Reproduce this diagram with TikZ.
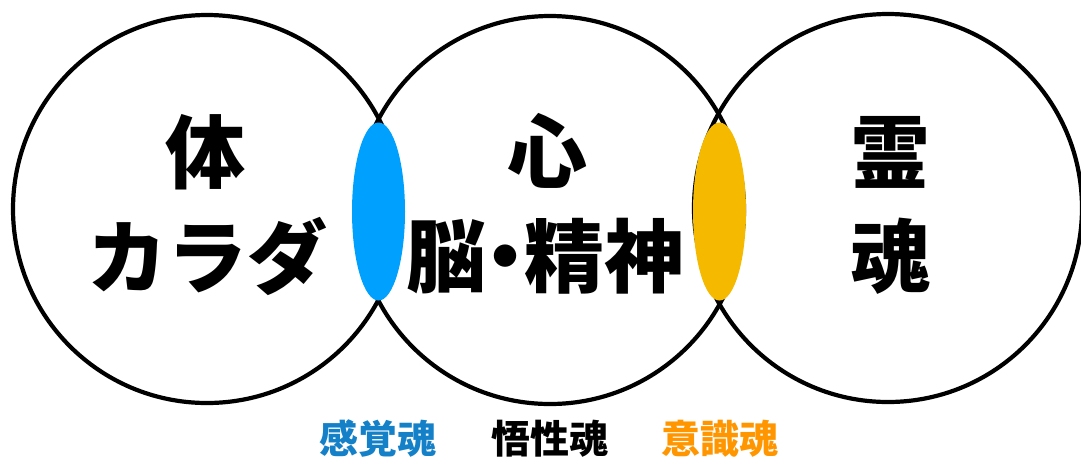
\documentclass[tikz,border=0pt]{standalone}
\usepackage{fontspec}
\newfontfamily\cjk{Noto Sans CJK JP}
\usetikzlibrary{shapes.geometric}
\definecolor{lensblue}{RGB}{0,160,255}
\definecolor{lensgold}{RGB}{245,185,0}
\definecolor{labelblue}{RGB}{20,128,200}
\definecolor{labelorange}{RGB}{255,150,0}
\begin{document}
\begin{tikzpicture}[x=1pt,y=-1pt,
  ring/.style={draw=black,line width=4.2pt,circle,minimum size=388pt,inner sep=0pt},
  lens/.style={ellipse,minimum width=53pt,minimum height=178pt,inner sep=0pt},
  big/.style={font=\cjk\bfseries\fontsize{80}{80}\selectfont,inner sep=0pt},
  small/.style={font=\cjk\bfseries\fontsize{39}{39}\selectfont,inner sep=0pt}]
\useasboundingbox (0,0) rectangle (1081,459);
\node[ring] (body) at (207,209) {};
\node[ring] (mind) at (550,210) {};
\node[ring] (soul) at (888,208) {};
\node[lens,fill=lensblue] (sense) at (378.5,211.5) {};
\node[lens,fill=lensgold] (consc) at (719.5,211.5) {};
\node[big] (t1) at (205,152) {体};
\node[big] (t2) at (207,256) {カラダ};
\node[big] (m1) at (547,151) {心};
\node[big] (m2) at (545,256) {脳\hspace{-21pt}・\hspace{-21pt}精神};
\node[big] (s1) at (890,152) {霊};
\node[big] (s2) at (890,256) {魂};
\node[small,text=labelblue] (l1) at (378,439) {感覚魂};
\node[small,text=black] (l2) at (550,439) {悟性魂};
\node[small,text=labelorange] (l3) at (720,439) {意識魂};
\end{tikzpicture}
\end{document}
